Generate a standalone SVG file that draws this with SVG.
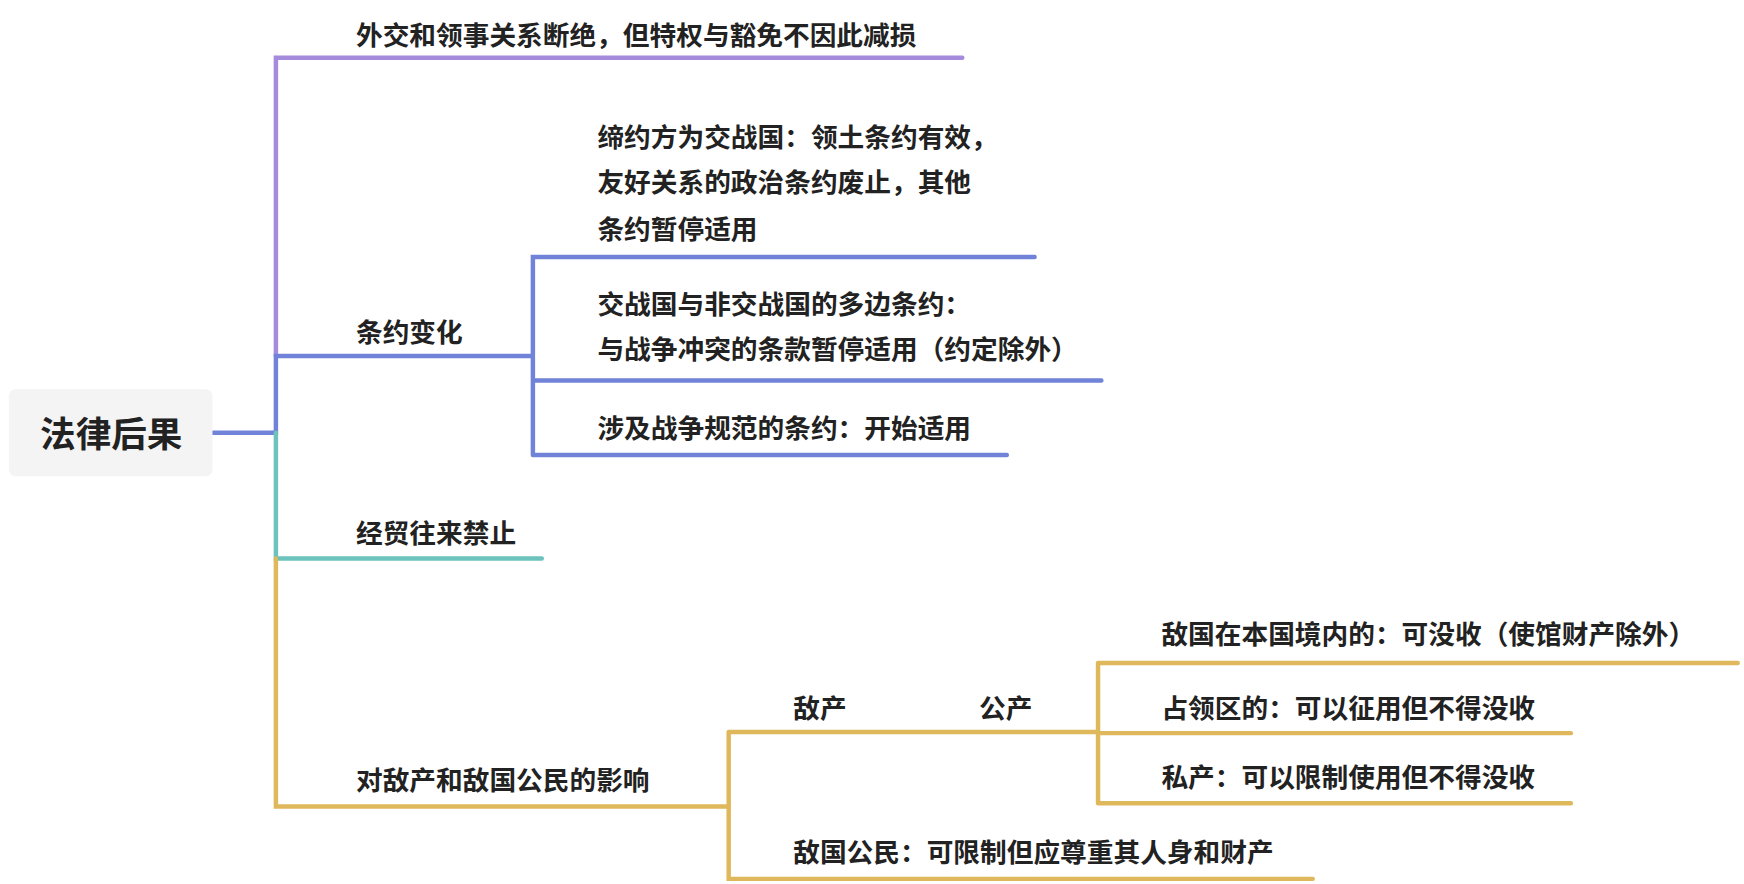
<svg xmlns="http://www.w3.org/2000/svg" width="1744" height="884" viewBox="0 0 1744 884">
<style>
text{font-family:"Noto Sans CJK SC","Noto Sans",sans-serif;font-weight:bold;font-size:24px;fill:#222}
.l{fill:none;stroke-width:4;stroke-linecap:round}
.p{stroke:#a58bdc}.b{stroke:#7083d8}.t{stroke:#6cc2bc}.g{stroke:#e0b85c}
</style>
<rect width="1744" height="884" fill="#fff"/>
<g transform="scale(1.1125)">
<g id="connectors">
<path class="l p" d="M248 320V52H865"/>
<path class="l b" d="M191 389H248V320H478"/>
<path class="l b" d="M479 409V231H930M479 342H990M479 409H905"/>
<path class="l t" d="M248 389V502H487"/>
<path class="l g" d="M248 502V725H655"/>
<path class="l g" d="M655 658V790H1180M655 658H987M987 596V722M987 596H1562M987 659H1412M987 722H1412"/>
</g>
<g id="root"><rect x="8" y="350" width="183" height="78" rx="6" fill="#f4f4f4"/><text x="100" y="402" text-anchor="middle" style="font-size:32px">法律后果</text></g>
<g id="n1"><text x="320" y="40">外交和领事关系断绝，但特权与豁免不因此减损</text></g>
<g id="n2"><text x="320" y="307">条约变化</text></g>
<g id="n21"><text x="537" y="132">缔约方为交战国：领土条约有效，</text><text x="537" y="173">友好关系的政治条约废止，其他</text><text x="537" y="215">条约暂停适用</text></g>
<g id="n22"><text x="537" y="282">交战国与非交战国的多边条约：</text><text x="537" y="323">与战争冲突的条款暂停适用（约定除外）</text></g>
<g id="n23"><text x="537" y="394">涉及战争规范的条约：开始适用</text></g>
<g id="n3"><text x="320" y="488">经贸往来禁止</text></g>
<g id="n4"><text x="320" y="710">对敌产和敌国公民的影响</text></g>
<g id="n41"><text x="713" y="645">敌产</text></g>
<g id="n411"><text x="880" y="645">公产</text></g>
<g id="n4111"><text x="1044" y="579">敌国在本国境内的：可没收（使馆财产除外）</text></g>
<g id="n4112"><text x="1044" y="645">占领区的：可以征用但不得没收</text></g>
<g id="n412"><text x="1044" y="707">私产：可以限制使用但不得没收</text></g>
<g id="n42"><text x="713" y="775">敌国公民：可限制但应尊重其人身和财产</text></g>
</g>
</svg>
